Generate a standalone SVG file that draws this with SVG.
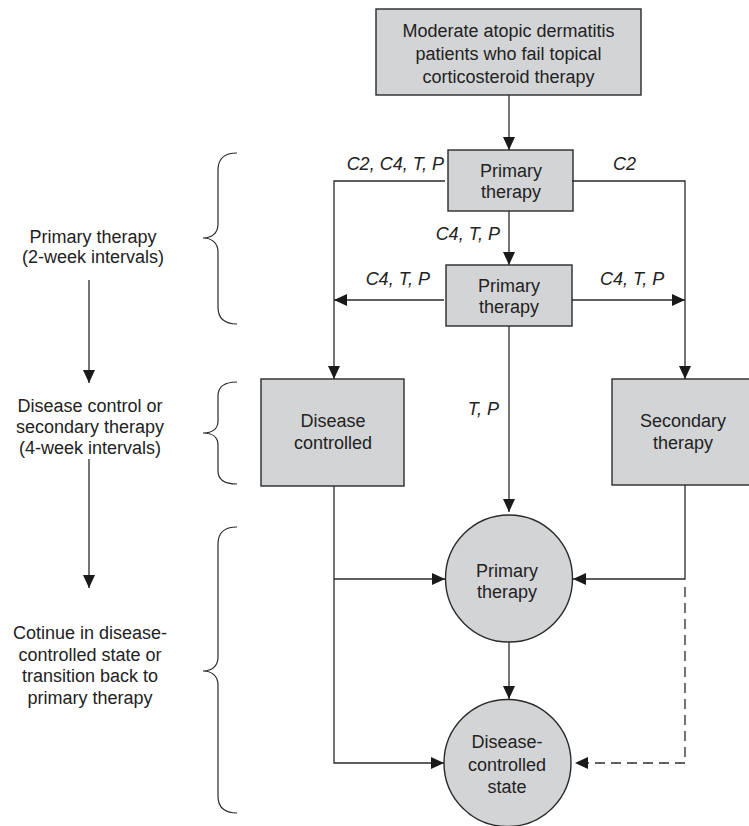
<svg xmlns="http://www.w3.org/2000/svg" width="749" height="826" viewBox="0 0 749 826">
<style>
.box{fill:#d3d4d6;stroke:#2a2a2a;stroke-width:1.4}
.t{font-family:"Liberation Sans",Arial,sans-serif;font-size:18px;fill:#222;text-anchor:middle}
.lbl{font-family:"Liberation Sans",Arial,sans-serif;font-size:18px;font-style:italic;fill:#222}
.ln{fill:none;stroke:#2a2a2a;stroke-width:1.3}
.dash{stroke-dasharray:10,6}
.brace{fill:none;stroke:#2a2a2a;stroke-width:1.2}
</style>
<defs>
<marker id="ah" markerUnits="userSpaceOnUse" markerWidth="14" markerHeight="14" viewBox="0 0 14 14" refX="13" refY="7" orient="auto">
<path d="M0,1 L13,7 L0,13 Z" fill="#1a1a1a"/>
</marker>
</defs>
<rect width="749" height="826" fill="#ffffff"/>

<g id="start">
<rect class="box" x="376" y="9" width="265" height="86"/>
<text class="t" x="508.5" y="37">Moderate atopic dermatitis</text>
<text class="t" x="508.5" y="60">patients who fail topical</text>
<text class="t" x="508.5" y="83">corticosteroid therapy</text>
</g>
<g id="primary1">
<rect class="box" x="448" y="150" width="125" height="61"/>
<text class="t" x="511" y="177">Primary</text>
<text class="t" x="511" y="198">therapy</text>
</g>
<g id="primary2">
<rect class="box" x="446" y="265" width="126" height="61"/>
<text class="t" x="509" y="292">Primary</text>
<text class="t" x="509" y="313">therapy</text>
</g>
<g id="disease-controlled">
<rect class="box" x="261" y="379" width="143" height="107"/>
<text class="t" x="333" y="427">Disease</text>
<text class="t" x="333" y="449">controlled</text>
</g>
<g id="secondary">
<rect class="box" x="612" y="379" width="145" height="106"/>
<text class="t" x="683" y="427">Secondary</text>
<text class="t" x="683" y="449">therapy</text>
</g>
<g id="primary-circle">
<circle class="box" cx="509" cy="578.5" r="63.5"/>
<text class="t" x="507" y="577">Primary</text>
<text class="t" x="507" y="598">therapy</text>
</g>
<g id="controlled-state">
<circle class="box" cx="507.5" cy="763" r="63.5"/>
<text class="t" x="507" y="748">Disease-</text>
<text class="t" x="507" y="771">controlled</text>
<text class="t" x="507" y="793">state</text>
</g>

<g id="connectors">
<line class="ln" x1="509" y1="95" x2="509" y2="150" marker-end="url(#ah)"/>
<line class="ln" x1="509" y1="211" x2="509" y2="265" marker-end="url(#ah)"/>
<polyline class="ln" points="445,181 334,181 334,379" marker-end="url(#ah)"/>
<polyline class="ln" points="572,181 685,181 685,379" marker-end="url(#ah)"/>
<line class="ln" x1="444" y1="300" x2="334" y2="300" marker-end="url(#ah)"/>
<line class="ln" x1="572" y1="300" x2="685" y2="300" marker-end="url(#ah)"/>
<line class="ln" x1="509" y1="326" x2="509" y2="512" marker-end="url(#ah)"/>
<polyline class="ln" points="334,486 334,763 444,763" marker-end="url(#ah)"/>
<line class="ln" x1="334" y1="579" x2="445" y2="579" marker-end="url(#ah)"/>
<polyline class="ln" points="685,485 685,579 573,579" marker-end="url(#ah)"/>
<polyline class="ln dash" points="685,587 685,763 575,763" marker-end="url(#ah)"/>
<line class="ln" x1="509" y1="642" x2="509" y2="699" marker-end="url(#ah)"/>
<line class="ln" x1="89" y1="280" x2="89" y2="383" marker-end="url(#ah)"/>
<line class="ln" x1="89" y1="459" x2="89" y2="588" marker-end="url(#ah)"/>
</g>

<g id="edge-labels">
<text class="lbl" x="444" y="170" text-anchor="end">C2, C4, T, P</text>
<text class="lbl" x="613" y="170">C2</text>
<text class="lbl" x="500" y="240" text-anchor="end">C4, T, P</text>
<text class="lbl" x="430" y="285" text-anchor="end">C4, T, P</text>
<text class="lbl" x="600" y="285">C4, T, P</text>
<text class="lbl" x="499" y="415" text-anchor="end">T, P</text>
</g>

<g id="braces">
<path class="brace" d="M237,153 C225,153 218,158 218,170 L218,224 C218,233 212,238 203,238 C212,238 218,243 218,252 L218,307 C218,319 225,324 237,324"/>
<path class="brace" d="M237,382 C225,382 218,386 218,396 L218,421 C218,429 212,433 203,433 C212,433 218,437 218,445 L218,471 C218,480 225,484 237,484"/>
<path class="brace" d="M237,527 C225,527 218,532 218,544 L218,657 C218,666 212,671 203,671 C212,671 218,676 218,685 L218,796 C218,808 225,813 237,813"/>
</g>

<g id="phase-labels">
<text class="t" x="93" y="243">Primary therapy</text>
<text class="t" x="93" y="263">(2-week intervals)</text>
<text class="t" x="90" y="412">Disease control or</text>
<text class="t" x="90" y="433">secondary therapy</text>
<text class="t" x="90" y="454">(4-week intervals)</text>
<text class="t" x="90" y="639">Cotinue in disease-</text>
<text class="t" x="90" y="661">controlled state or</text>
<text class="t" x="90" y="682">transition back to</text>
<text class="t" x="90" y="704">primary therapy</text>
</g>
</svg>
